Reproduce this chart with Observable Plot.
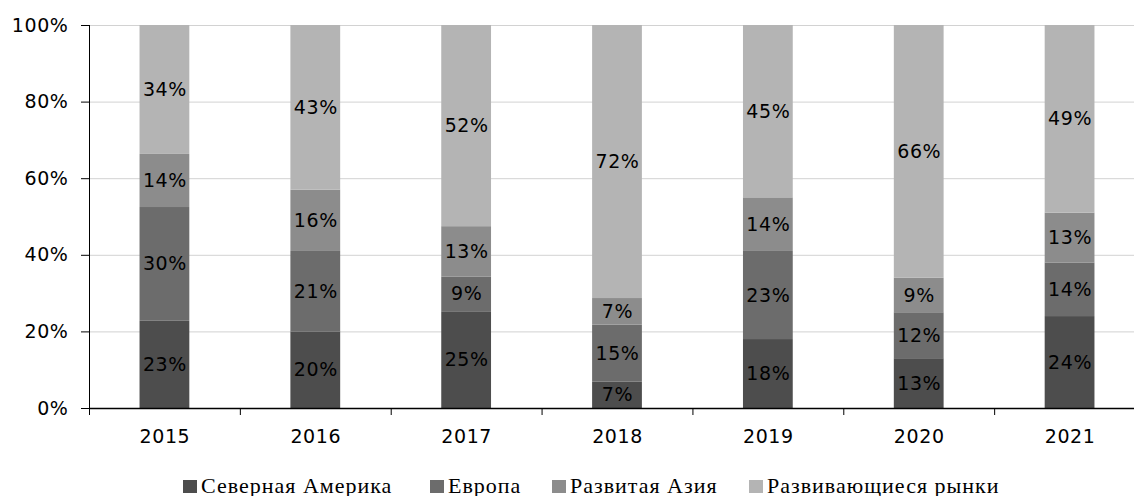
<!DOCTYPE html>
<html>
<head>
<meta charset="utf-8">
<script src="https://cdn.jsdelivr.net/npm/d3@7"></script>
<script src="https://cdn.jsdelivr.net/npm/@observablehq/plot@0.6"></script>
<style>
  html, body { margin: 0; padding: 0; background: #fff; overflow: hidden; }
  #chart svg { display: block; }
  #legend { position: relative; height: 26px;
    font-family: "Liberation Serif", serif; font-size: 22px; letter-spacing: 1px; color: #000; }
  .item { position: absolute; top: 3px; height: 26px; display: flex; align-items: center; white-space: nowrap; }
  .sw { width: 14px; height: 13px; margin-right: 4px; display: inline-block; }
</style>
</head>
<body>
<div id="chart"></div>
<div id="legend"></div>
<script>
const years = ["2015", "2016", "2017", "2018", "2019", "2020", "2021"];
const seriesNames = ["Северная Америка", "Европа", "Развитая Азия", "Развивающиеся рынки"];
const northAmerica = [23, 20, 25, 7, 18, 13, 24];
const europe = [30, 21, 9, 15, 23, 12, 14];
const developedAsia = [14, 16, 13, 7, 14, 9, 13];
const emerging = [34, 43, 52, 72, 45, 66, 49];
const colors = ["#4d4d4d", "#6c6c6c", "#8c8c8c", "#b4b4b4"];
const yTicks = [0, 0.2, 0.4, 0.6, 0.8, 1];
const legendLeft = [183, 430, 552, 749];

const seriesValues = [northAmerica, europe, developedAsia, emerging];
const rows = [];
years.forEach((yr, i) => {
  seriesNames.forEach((s, j) => rows.push({year: yr, series: s, value: seriesValues[j][i]}));
});

const W = 1134, H = 470, mL = 89, mT = 25, mB = 62;
const xRight = 1145;
const step = (xRight - mL) / years.length;

const chart = Plot.plot({
  width: W, height: H,
  marginLeft: mL, marginRight: 0, marginTop: mT, marginBottom: mB,
  style: {fontFamily: "DejaVu Sans", fontSize: "19px", color: "#000", background: "#fff", letterSpacing: "0.6px"},
  x: {domain: years, range: [mL, xRight], paddingInner: 0.67, paddingOuter: 0.335, round: false, label: null},
  y: {domain: [0, 1], label: null},
  color: {domain: seriesNames, range: colors},
  marks: [
    Plot.gridY(yTicks, {stroke: "#d2d2d2", strokeOpacity: 1}),
    Plot.barY(rows, Plot.stackY({offset: "normalize"}, {x: "year", y: "value", fill: "series", z: "series"})),
    Plot.text(rows, Plot.stackY({offset: "normalize"}, {x: "year", y: "value", z: "series", text: d => d.value + "%", fill: "#000"})),
    Plot.axisY(yTicks, {tickSize: 8, tickPadding: 13, tickFormat: d3.format(".0%"), label: null, stroke: "#000", fill: "#000"}),
    Plot.frame({anchor: "left", stroke: "#000"}),
    Plot.ruleY([0], {stroke: "#000", strokeWidth: 1.5}),
    Plot.axisX({tickSize: 0, tickPadding: 21, label: null, fill: "#000"}),
    Plot.axisX({tickSize: 7, tickFormat: () => "", dx: -step / 2, label: null, stroke: "#000"})
  ]
});
document.getElementById("chart").appendChild(chart);

const legend = document.getElementById("legend");
seriesNames.forEach((s, j) => {
  const it = document.createElement("span");
  it.className = "item";
  it.style.left = legendLeft[j] + "px";
  const sw = document.createElement("span");
  sw.className = "sw";
  sw.style.background = colors[j];
  it.appendChild(sw);
  it.appendChild(document.createTextNode(s));
  legend.appendChild(it);
});
</script>
</body>
</html>
